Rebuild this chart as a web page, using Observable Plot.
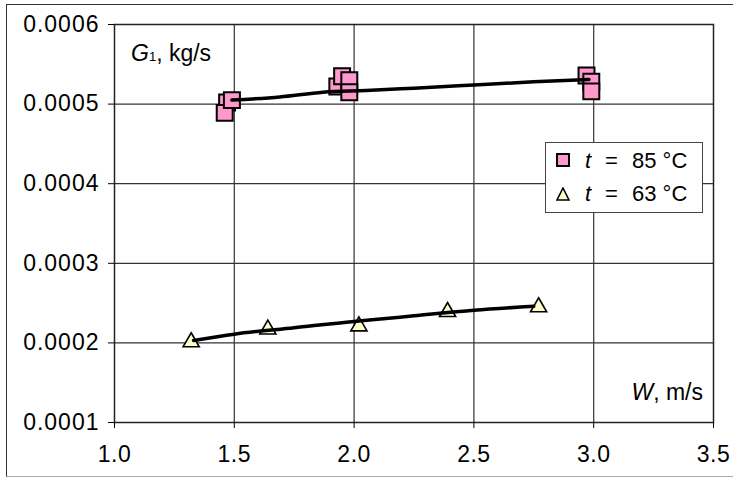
<!DOCTYPE html>
<html>
<head>
<meta charset="utf-8">
<script src="https://cdn.jsdelivr.net/npm/d3@7"></script>
<script src="https://cdn.jsdelivr.net/npm/@observablehq/plot@0.6"></script>
<style>
  html, body { margin: 0; padding: 0; background: #fff; }
  #wrap { position: relative; width: 733px; height: 479px; overflow: hidden; font-family: "Liberation Sans", Arial, sans-serif; }
  #outer { position: absolute; left: 6px; top: 4px; width: 760px; height: 473px; border-left: 1.5px solid #333; border-top: 1.5px solid #333; border-bottom: 1.5px solid #aaa; box-sizing: border-box; }
  #chart { position: absolute; left: 0; top: 0; }
  #chart g[aria-label="y-axis tick label"] text { letter-spacing: 1px; }
  #chart g[aria-label="x-axis tick label"] text { letter-spacing: 0.5px; }
  .lbl { position: absolute; font-size: 23px; line-height: 1; white-space: pre; color: #000; }
  #legend { position: absolute; left: 545px; top: 142px; width: 158px; height: 71px; border: 1.5px solid #444; background: #fff; box-sizing: border-box; }
  .lrow { position: absolute; left: 0; font-size: 22px; line-height: 1; white-space: pre; }
  .lrow svg { position: absolute; left: 10px; }
  .lrow span { position: absolute; }
</style>
</head>
<body>
<div id="wrap">
  <div id="outer"></div>
  <div id="chart"></div>
</div>
<script>
// 85 °C measurements (squares)
const x85 = [1.47, 1.46, 1.49, 1.93, 1.95, 1.98, 1.98, 2.97, 2.99, 2.99];
const y85 = [0.000502, 0.000489, 0.000505, 0.000522, 0.000535, 0.000530, 0.000515, 0.000536, 0.000528, 0.000516];
// 85 °C trend line
const fit85x = [1.49, 1.69, 1.87, 2.05, 2.25, 2.5, 2.75, 2.98];
const fit85y = [0.000505, 0.000509, 0.000515, 0.000517, 0.000520, 0.000524, 0.000528, 0.000531];
// 63 °C measurements (triangles)
const x63 = [1.32, 1.64, 2.02, 2.39, 2.77];
const y63 = [0.000201, 0.000217, 0.000221, 0.000239, 0.000245];
// 63 °C trend line
const fit63x = [1.33, 1.5, 1.75, 2.0, 2.11, 2.25, 2.5, 2.75];
const fit63y = [0.000203, 0.000211, 0.000219, 0.000227, 0.000230, 0.000234, 0.000241, 0.000246];
// axes
const xTicks = [1.0, 1.5, 2.0, 2.5, 3.0, 3.5];
const yTicks = [0.0001, 0.0002, 0.0003, 0.0004, 0.0005, 0.0006];
const xGrid = [1.5, 2.0, 2.5, 3.0];
const yGrid = [0.0002, 0.0003, 0.0004, 0.0005];
// texts
const yLabel = ["G", "1", ", kg/s"];
const xLabel = ["W", ", m/s"];
const seriesNames = [{sym: "square", t: "t", rest: "85 °C", color: "#ff99cc"}, {sym: "triangle", t: "t", rest: "63 °C", color: "#ffffcc"}];

const pts85 = x85.map((x, i) => ({x, y: y85[i]}));
const pts63 = x63.map((x, i) => ({x, y: y63[i]}));
const line85 = fit85x.map((x, i) => ({x, y: fit85y[i]}));
const line63 = fit63x.map((x, i) => ({x, y: fit63y[i]}));

const plot = Plot.plot({
  width: 733,
  height: 479,
  marginLeft: 114,
  marginRight: 20,
  marginTop: 24,
  marginBottom: 57,
  x: {domain: [1, 3.5]},
  y: {domain: [0.0001, 0.0006]},
  style: {fontFamily: "'Liberation Sans', Arial, sans-serif", background: "transparent", color: "#000"},
  marks: [
    Plot.gridX(xGrid, {stroke: "#333", strokeOpacity: 1, strokeWidth: 1.2}),
    Plot.gridY(yGrid, {stroke: "#333", strokeOpacity: 1, strokeWidth: 1.2}),
    Plot.frame({stroke: "#222", strokeWidth: 1.5}),
    Plot.dot(pts85, {x: "x", y: "y", symbol: "square", r: 9, fill: "#ff99cc", stroke: "#000", strokeWidth: 2}),
    Plot.dot(pts63, {x: "x", y: "y", symbol: "triangle", r: 6, fill: "#ffffcc", stroke: "#000", strokeWidth: 1.6}),
    Plot.line(line85, {x: "x", y: "y", stroke: "#000", strokeWidth: 3.5, curve: "monotone-x"}),
    Plot.line(line63, {x: "x", y: "y", stroke: "#000", strokeWidth: 3.5, curve: "monotone-x"}),
    Plot.axisX({ticks: xTicks, tickFormat: d3.format(".1f"), tickSize: 6, tickPadding: 17, fontSize: 23, label: null}),
    Plot.axisY({ticks: yTicks, tickFormat: d3.format(".4f"), tickSize: 6, tickPadding: 9, fontSize: 23, label: null})
  ]
});
document.getElementById("chart").appendChild(plot);

const wrap = document.getElementById("wrap");
// y-axis label
const gl = document.createElement("div");
gl.className = "lbl";
gl.style.left = "131px";
gl.style.top = "42px";
gl.innerHTML = `<i>${yLabel[0]}</i><span style="font-size:13px">${yLabel[1]}</span>${yLabel[2]}`;
wrap.appendChild(gl);
// x-axis label
const wl = document.createElement("div");
wl.className = "lbl";
wl.style.right = "30px";
wl.style.top = "381px";
wl.innerHTML = `<i>${xLabel[0]}</i>${xLabel[1]}`;
wrap.appendChild(wl);

// legend
const leg = document.createElement("div");
leg.id = "legend";
seriesNames.forEach((s, i) => {
  const row = document.createElement("div");
  row.className = "lrow";
  row.style.top = (i === 0 ? 7 : 40) + "px";
  const shape = s.sym === "square"
    ? `<rect x="1" y="1" width="12" height="12" fill="${s.color}" stroke="#000" stroke-width="2"/>`
    : `<path d="M7,1 L13,13 L1,13 Z" fill="${s.color}" stroke="#000" stroke-width="1.6" stroke-linejoin="miter"/>`;
  row.innerHTML = `<svg width="14" height="14" style="top:${i === 0 ? 3 : 4}px">${shape}</svg>` +
    `<span style="left:39px"><i>${s.t}</i></span>` +
    `<span style="left:59px">=</span>` +
    `<span style="left:86px">${s.rest}</span>`;
  leg.appendChild(row);
});
wrap.appendChild(leg);
</script>
</body>
</html>
